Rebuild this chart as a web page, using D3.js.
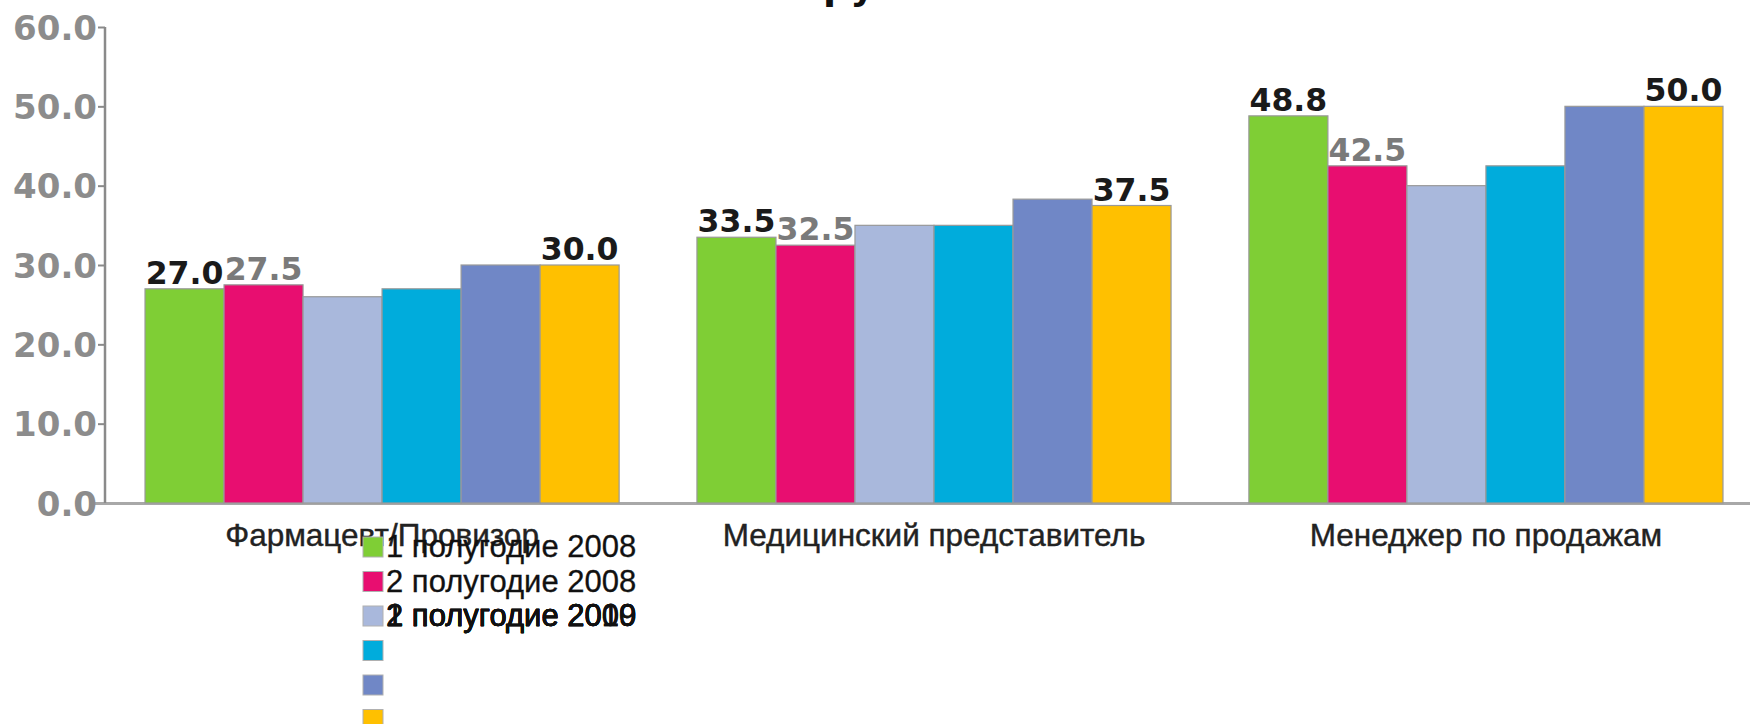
<!DOCTYPE html>
<html>
<head>
<meta charset="utf-8">
<script src="https://cdn.jsdelivr.net/npm/d3@7"></script>
<style>
  body { margin: 0; background: #fff; }
  svg { display: block; }
</style>
</head>
<body>
<div id="chart"></div>
<script>
// ========== data ==========
var categories = ["Фармацевт/Провизор", "Медицинский представитель", "Менеджер по продажам"];
var seriesNames = ["1 полугодие 2008", "2 полугодие 2008", "1 полугодие 2009", "2 полугодие 2009", "1 полугодие 2010", "2 полугодие 2010"];
var seriesColors = ["#7fce35", "#e80e70", "#a9b8dc", "#00acdc", "#7087c6", "#ffc000"];
var values = [
  [27.0, 33.5, 48.8],
  [27.5, 32.5, 42.5],
  [26.0, 35.0, 40.0],
  [27.0, 35.0, 42.5],
  [30.0, 38.3, 50.0],
  [30.0, 37.5, 50.0]
];
// which series get a value label and in which colour
var labelSeries = [0, 1, 5];
var labelColors = {0: "#1a1a1a", 1: "#7a7a7a", 5: "#1a1a1a"};
var yTicks = [0, 10, 20, 30, 40, 50, 60];
var titleText = "по группам";

// ========== setup ==========
var svgWidth = 1750, svgHeight = 724;
var svg = d3.select("#chart").append("svg").attr("width", svgWidth).attr("height", svgHeight);

var x0 = d3.scaleBand().domain(categories).range([105, 1763]).paddingInner(0.141).paddingOuter(0.0725);
var x1 = d3.scaleBand().domain(d3.range(seriesNames.length)).range([0, x0.bandwidth()]).padding(0);
var y = d3.scaleLinear().domain([0, 60]).range([503, 27]);

// ---- title (cut off by the top edge, only the descenders show) ----
var title = svg.append("text")
  .attr("x", 0).attr("y", -1)
  .attr("font-family", "DejaVu Sans").attr("font-weight", "bold").attr("font-size", "38px")
  .attr("fill", "#111")
  .text(titleText);
var rPos = title.node().getStartPositionOfChar(titleText.indexOf("р")).x;
title.attr("x", 823 - rPos);

// ---- baseline ----
svg.append("line")
  .attr("x1", 95).attr("x2", svgWidth)
  .attr("y1", y(0) + 0.5).attr("y2", y(0) + 0.5)
  .attr("stroke", "#a8a8a8").attr("stroke-width", 3);

// ---- bars ----
var groups = svg.append("g").selectAll("g")
  .data(categories)
  .enter().append("g")
  .attr("transform", function(d) { return "translate(" + x0(d) + ",0)"; });

groups.selectAll("rect")
  .data(function(d, ci) { return seriesNames.map(function(s, si) { return {si: si, v: values[si][ci]}; }); })
  .enter().append("rect")
  .attr("x", function(d) { return x1(d.si); })
  .attr("y", function(d) { return y(d.v); })
  .attr("width", x1.bandwidth())
  .attr("height", function(d) { return y(0) - y(d.v); })
  .attr("fill", function(d) { return seriesColors[d.si]; })
  .attr("stroke", "#999").attr("stroke-width", 1.2);

// ---- value labels ----
groups.selectAll("text.val")
  .data(function(d, ci) { return labelSeries.map(function(si) { return {si: si, v: values[si][ci]}; }); })
  .enter().append("text")
  .attr("class", "val")
  .attr("x", function(d) { return x1(d.si) + x1.bandwidth() / 2; })
  .attr("y", function(d) { return y(d.v) - 5; })
  .attr("text-anchor", "middle")
  .attr("font-family", "DejaVu Sans").attr("font-weight", "bold").attr("font-size", "31.5px")
  .attr("fill", function(d) { return labelColors[d.si]; })
  .text(function(d) { return d.v.toFixed(1); });

// ---- y axis ----
var yAxis = d3.axisLeft(y).tickValues(yTicks).tickSize(7).tickFormat(d3.format(".1f"));
var yg = svg.append("g").attr("transform", "translate(105,0)").call(yAxis);
yg.select(".domain").attr("stroke", "#8a8a8a").attr("stroke-width", 2.5).attr("d", "M0," + y(60) + "V" + y(0));
yg.selectAll(".tick line").attr("stroke", "#8a8a8a").attr("stroke-width", 2);
yg.selectAll(".tick").filter(function(d) { return d === 0; }).select("line").remove();
yg.selectAll(".tick text")
  .attr("x", -8).attr("dy", "0.36em")
  .attr("font-family", "DejaVu Sans").attr("font-weight", "bold").attr("font-size", "34px")
  .attr("fill", "#8c8c8c");

// ---- category labels ----
svg.append("g").selectAll("text")
  .data(categories)
  .enter().append("text")
  .attr("x", function(d) { return x0(d) + x0.bandwidth() / 2; })
  .attr("y", 546)
  .attr("text-anchor", "middle")
  .attr("font-family", "Liberation Sans").attr("font-size", "31.5px")
  .attr("fill", "#222").attr("stroke", "#222").attr("stroke-width", 0.4)
  .text(function(d) { return d; });

// ---- legend (texts of the last four entries all land on row 3) ----
var legend = svg.append("g");
legend.selectAll("rect")
  .data(seriesNames)
  .enter().append("rect")
  .attr("x", 363).attr("y", function(d, i) { return 537 + i * 34.5; })
  .attr("width", 20).attr("height", 20)
  .attr("fill", function(d, i) { return seriesColors[i]; })
  .attr("stroke", "#b0b0b0").attr("stroke-width", 1);
legend.selectAll("text")
  .data(seriesNames)
  .enter().append("text")
  .attr("x", 386).attr("y", function(d, i) { return 557 + Math.min(i, 2) * 34.5; })
  .attr("font-family", "Liberation Sans").attr("font-size", "31px")
  .attr("fill", "#111").attr("stroke", "#111").attr("stroke-width", 0.3)
  .text(function(d) { return d; });
</script>
</body>
</html>
